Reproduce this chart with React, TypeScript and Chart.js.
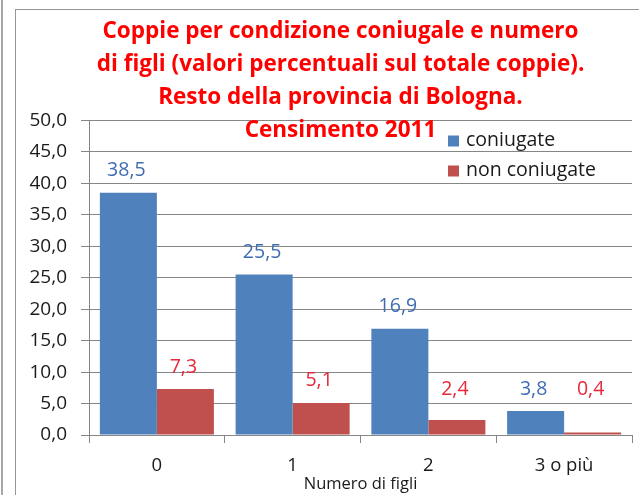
import React, { useEffect, useRef } from 'react';
import { Chart, registerables } from 'chart.js';

Chart.register(...registerables);

const categories = ['0', '1', '2', '3 o più'];
const coniugate = [38.5, 25.5, 16.9, 3.8];
const nonConiugate = [7.3, 5.1, 2.4, 0.4];
const seriesNames = ['coniugate', 'non coniugate'];
const titleLines = [
  'Coppie per condizione coniugale e numero',
  'di figli (valori percentuali sul totale coppie).',
  'Resto della provincia di Bologna.',
  'Censimento 2011',
];
const xAxisTitle = 'Numero di figli';
const yMin = 0;
const yMax = 50;
const yStep = 5;

const FONT = '"Open Sans", Lato, sans-serif';
const barColors = ['#4F81BD', '#C0504D'];
const labelColors = ['#3F6DB3', '#E5283A'];
const fmt = (v: number) => v.toFixed(1).replace('.', ',');

const labelPlugin = {
  id: 'barLabels',
  afterDatasetsDraw(chart: any) {
    const ctx = chart.ctx;
    const yScale = chart.scales.y;
    const floorY = yScale.getPixelForValue(7.3);
    chart.data.datasets.forEach((ds: any, di: number) => {
      const meta = chart.getDatasetMeta(di);
      meta.data.forEach((bar: any, i: number) => {
        ctx.save();
        ctx.font = `19.5px ${FONT}`;
        ctx.fillStyle = labelColors[di];
        ctx.textAlign = 'center';
        ctx.textBaseline = 'middle';
        ctx.fillText(fmt(ds.data[i]), bar.x - 2, Math.min(bar.y - 22, floorY));
        ctx.restore();
      });
    });
  },
};

const legendPlugin = {
  id: 'insideLegend',
  afterDraw(chart: any) {
    const ctx = chart.ctx;
    const area = chart.chartArea;
    chart.data.datasets.forEach((ds: any, i: number) => {
      const x = area.right - 184;
      const y = area.top + 20 + i * 30;
      ctx.save();
      ctx.fillStyle = ds.backgroundColor;
      ctx.fillRect(x, y - 5, 11, 11);
      ctx.font = `19.5px ${FONT}`;
      ctx.fillStyle = '#1a1a1a';
      ctx.textAlign = 'left';
      ctx.textBaseline = 'middle';
      ctx.fillText(ds.label, x + 18, y);
      ctx.restore();
    });
  },
};

// shift the title block so its centre sits where the reference title is centred
const titleShiftPlugin = {
  id: 'titleShift',
  afterLayout(chart: any) {
    const t = chart.titleBlock;
    if (t) { t.left = t.left + 33; }
  },
};

export default function App() {
  const ref = useRef<HTMLCanvasElement>(null);
  useEffect(() => {
    if (!ref.current) return;
    const chart = new Chart(ref.current, {
      type: 'bar',
      data: {
        labels: categories,
        datasets: [
          { label: seriesNames[0], data: coniugate, backgroundColor: barColors[0], categoryPercentage: 0.84, barPercentage: 1 },
          { label: seriesNames[1], data: nonConiugate, backgroundColor: barColors[1], categoryPercentage: 0.84, barPercentage: 1 },
        ],
      },
      options: {
        responsive: false,
        animation: false,
        devicePixelRatio: 1,
        layout: { padding: { left: 16, right: 7, top: 0, bottom: 0 } },
        plugins: {
          legend: { display: false },
          tooltip: { enabled: false },
          title: {
            display: true,
            text: titleLines,
            color: '#FF0000',
            font: { family: FONT, size: 22.5, weight: 'bold', lineHeight: 33 / 22.5 },
            padding: { top: 15.5, bottom: -27 },
          },
        },
        scales: {
          x: {
            afterFit: (s: any) => { s.height = 60; },
            grid: { display: true, drawOnChartArea: false, drawTicks: true, tickLength: 8, color: '#868686' },
            border: { display: true, color: '#868686' },
            ticks: { color: '#1a1a1a', font: { family: FONT, size: 18.5 }, padding: 12 },
            title: { display: true, text: xAxisTitle, color: '#1a1a1a', font: { family: FONT, size: 16.5 }, padding: { top: 0, bottom: 1 } },
          },
          y: {
            min: yMin,
            max: yMax,
            afterFit: (s: any) => { s.width = 73; },
            grid: { color: '#868686', tickLength: 8 },
            border: { display: true, color: '#868686' },
            ticks: { stepSize: yStep, color: '#1a1a1a', font: { family: FONT, size: 19 }, padding: 14, callback: (v: any) => fmt(Number(v)) },
          },
        },
      },
      plugins: [labelPlugin, legendPlugin, titleShiftPlugin],
    } as any);
    return () => chart.destroy();
  }, []);

  return (
    <div style={{ position: 'fixed', left: 0, top: 0, width: 639, height: 495, background: '#fff', overflow: 'hidden' }}>
      <div style={{ position: 'absolute', left: 1, top: 0, width: 2, height: 495, background: '#a6a6a6' }} />
      <div style={{ position: 'absolute', left: 15, top: 9, width: 700, height: 600, border: '1.5px solid #959595', boxSizing: 'border-box' }} />
      <canvas ref={ref} width={639} height={495} style={{ position: 'absolute', left: 0, top: 0, width: 639, height: 495 }} />
    </div>
  );
}
